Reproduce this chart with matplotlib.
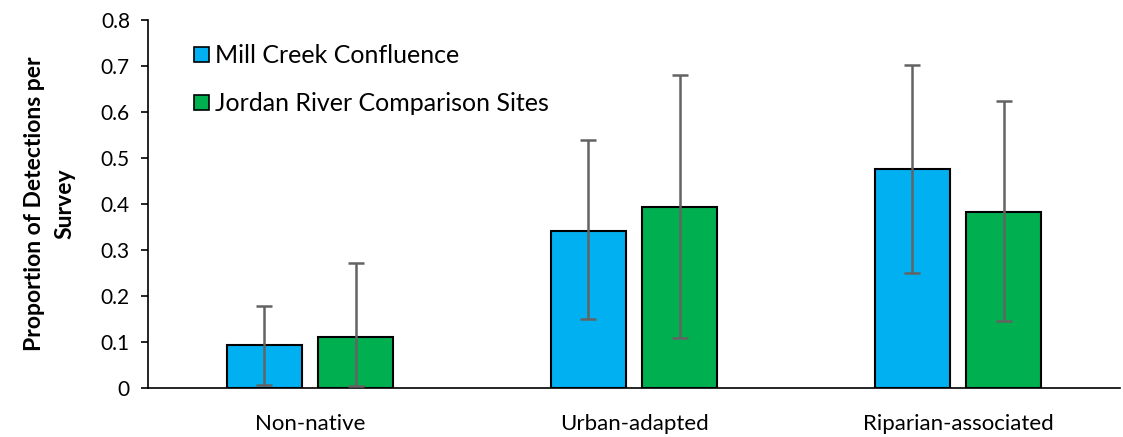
import matplotlib.pyplot as plt
import matplotlib.ticker as mticker
import numpy as np
from matplotlib.patches import Patch

plt.rcParams['font.family'] = ['Lato', 'DejaVu Sans']

categories = ['Non-native', 'Urban-adapted', 'Riparian-associated']
mill_creek = [0.093, 0.342, 0.476]
mill_low = [0.007, 0.151, 0.251]
mill_high = [0.178, 0.539, 0.702]
jordan = [0.110, 0.394, 0.382]
jordan_low = [0.005, 0.109, 0.146]
jordan_high = [0.272, 0.681, 0.623]

blue = '#00B0F0'
green = '#00B050'

fig = plt.figure(figsize=(11.23, 4.37), dpi=100)
ax = fig.add_axes([148 / 1123, 49 / 437, 972 / 1123, 368 / 437])

x = np.arange(len(categories))
w = 0.23
off = 0.141

mill_err = [np.array(mill_creek) - np.array(mill_low), np.array(mill_high) - np.array(mill_creek)]
jordan_err = [np.array(jordan) - np.array(jordan_low), np.array(jordan_high) - np.array(jordan)]

ax.bar(x - off, mill_creek, w, color=blue, edgecolor='black', linewidth=1.5, zorder=2)
ax.bar(x + off, jordan, w, color=green, edgecolor='black', linewidth=1.5, zorder=2)
ax.errorbar(x - off, mill_creek, yerr=mill_err, fmt='none', ecolor='#636363',
            elinewidth=1.8, capsize=6, capthick=1.8, zorder=3)
ax.errorbar(x + off, jordan, yerr=jordan_err, fmt='none', ecolor='#636363',
            elinewidth=1.8, capsize=6, capthick=1.8, zorder=3)

ax.set_xlim(-0.5, 2.5)
ax.set_ylim(0, 0.8)
ax.set_yticks(np.arange(0, 0.81, 0.1))
ax.yaxis.set_major_formatter(mticker.FuncFormatter(lambda v, p: '0' if v == 0 else f'{v:.1f}'))
ax.set_xticks(x)
ax.set_xticklabels(categories, fontsize=16)
ax.tick_params(axis='x', length=0, pad=19)
ax.tick_params(axis='y', labelsize=15, length=5, width=1.2, pad=8)

for s in ['top', 'right']:
    ax.spines[s].set_visible(False)
ax.spines['left'].set_linewidth(1.2)
ax.spines['bottom'].set_linewidth(1.2)

ax.set_ylabel('Proportion of Detections per\nSurvey', fontsize=16.5, fontweight='bold',
              labelpad=18, linespacing=1.6)

handles = [Patch(facecolor=blue, edgecolor='black', linewidth=1.2),
           Patch(facecolor=green, edgecolor='black', linewidth=1.2)]
ax.legend(handles, ['Mill Creek Confluence', 'Jordan River Comparison Sites'],
          loc='upper left', bbox_to_anchor=(0.024, 0.995), frameon=False, fontsize=18,
          handlelength=0.6, handleheight=0.6, handletextpad=0.25, labelspacing=1.0)

fig.savefig('out.png', dpi=100)
